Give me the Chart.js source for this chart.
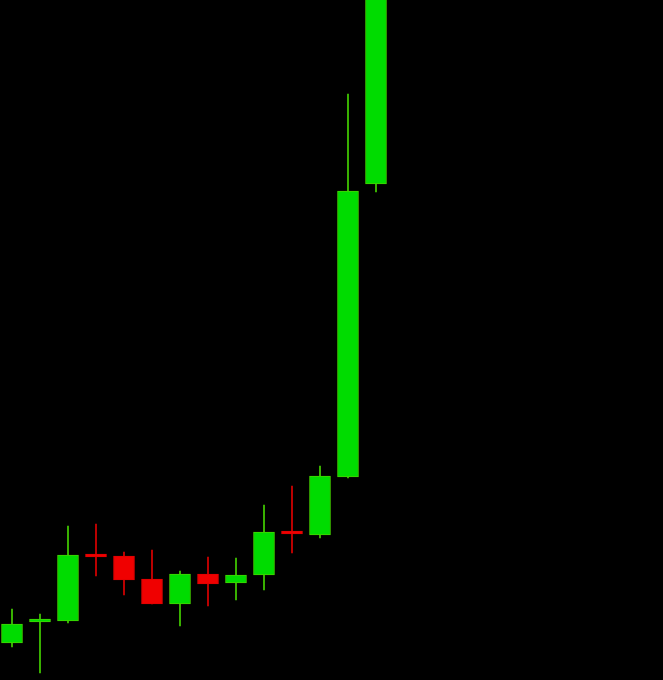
<!DOCTYPE html>
<html>
<head>
<meta charset="utf-8">
<script src="https://cdn.jsdelivr.net/npm/chart.js@4.4.1/dist/chart.umd.min.js"></script>
<style>
  html,body{margin:0;padding:0;background:#000;}
  #wrap{width:663px;height:680px;}
</style>
</head>
<body>
<div id="wrap"><canvas id="grafico"></canvas></div>
<script>
// velas
const velas  = [0,1,2,3,4,5,6,7,8,9,10,11,12,13];
const open_  = [37, 58,  59, 125, 124, 101,  76, 106,  97, 105, 148, 145, 203, 496];
const high_  = [71, 66, 154, 156, 128, 130, 109, 123, 122, 175, 194, 214, 586, 760];
const low_   = [33,  7,  57, 104,  85,  76,  54,  74,  80,  90, 127, 142, 202, 488];
const close_ = [56, 60, 125, 123, 100,  76, 106,  96, 105, 148, 146, 204, 489, 740];

const VERDE = '#00dc00', ROJO = '#f00000';
const colores = velas.map(i => close_[i] >= open_[i] ? VERDE : ROJO);
const bordes  = velas.map(i => close_[i] >= open_[i] ? '#44d400' : '#e00000');

const ctx = document.getElementById("grafico").getContext("2d");
new Chart(ctx, {
  type: 'bar',
  data: {
    datasets: [
      { // cuerpo
        data: velas.map(i => ({x: i, y: [open_[i], close_[i]]})),
        backgroundColor: colores, borderColor: bordes, borderWidth: 1,
        borderSkipped: false, barThickness: 21, minBarLength: 3
      },
      { // mecha
        data: velas.map(i => ({x: i, y: [low_[i], high_[i]]})),
        backgroundColor: bordes, borderWidth: 0, barThickness: 1
      }
    ]
  },
  options: {
    responsive: true, maintainAspectRatio: false, animation: false,
    datasets: { bar: { grouped: false } },
    layout: { padding: 0 },
    plugins: { legend: { display: false }, tooltip: { enabled: false } },
    scales: {
      x: { type: 'linear', display: false, offset: false, min: -12/28, max: -12/28 + 663/28 },
      y: { display: false, min: 0, max: 680 }
    }
  }
});
</script>
</body>
</html>
